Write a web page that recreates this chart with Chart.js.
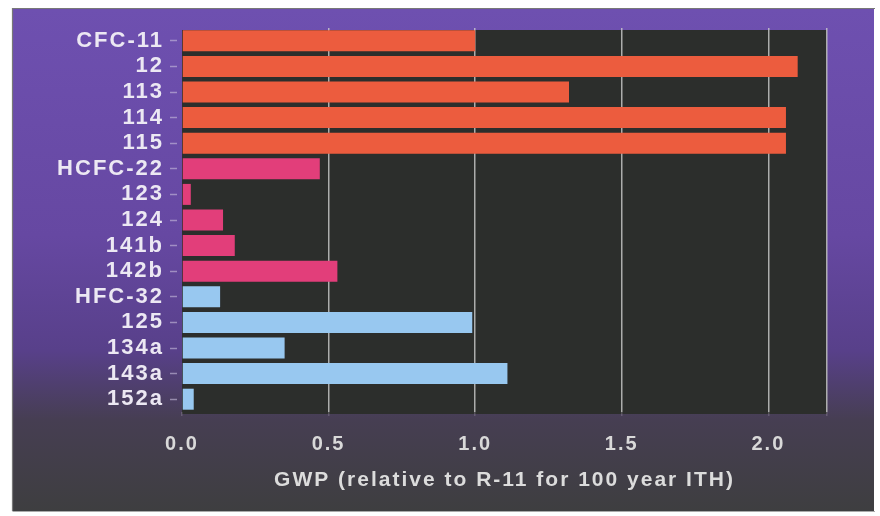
<!DOCTYPE html>
<html>
<head>
<meta charset="utf-8">
<script src="https://cdn.jsdelivr.net/npm/chart.js@4"></script>
<style>
  html, body { margin: 0; padding: 0; background: #ffffff; }
  #wrap { width: 880px; height: 516px; }
</style>
</head>
<body>
<div id="wrap"><canvas id="c" width="880" height="516"></canvas></div>
<script>
// ---- data ----
const categories = ['CFC-11','12','113','114','115','HCFC-22','123','124','141b','142b','HFC-32','125','134a','143a','152a'];
const cfcValues  = [1.00, 2.10, 1.32, 2.06, 2.06];
const hcfcValues = [0.47, 0.03, 0.14, 0.18, 0.53];
const hfcValues  = [0.13, 0.99, 0.35, 1.11, 0.04];
const tickValues = [0.0, 0.5, 1.0, 1.5, 2.0];
const axisMax = 2.2;
const axisTitle = 'GWP (relative to R-11 for 100 year ITH)';

// place each group's values in its own rows
function placed(values, offset) {
  return categories.map((_, i) => (i >= offset && i < offset + values.length) ? values[i - offset] : null);
}

const SPACING = '2px';
const bgPlugin = {
  id: 'bg',
  beforeLayout(chart) { chart.ctx.letterSpacing = SPACING; },
  beforeDraw(chart) {
    const ctx = chart.ctx;
    ctx.save();
    ctx.letterSpacing = '0px';
    ctx.fillStyle = '#ffffff';
    ctx.fillRect(0, 0, chart.width, chart.height);
    const g = ctx.createLinearGradient(0, 9, 0, 511);
    g.addColorStop(0.0, 'rgb(110,80,176)');
    g.addColorStop(0.45, 'rgb(102,72,162)');
    g.addColorStop(0.68, 'rgb(88,64,138)');
    g.addColorStop(0.82, 'rgb(70,62,82)');
    g.addColorStop(1.0, 'rgb(62,62,64)');
    ctx.fillStyle = g;
    ctx.fillRect(13, 9, 861, 502);
    ctx.strokeStyle = 'rgb(120,120,120)';
    ctx.lineWidth = 1.2;
    ctx.beginPath();
    ctx.moveTo(12.5, 511); ctx.lineTo(12.5, 8.5); ctx.lineTo(875, 8.5);
    ctx.stroke();
    ctx.strokeStyle = 'rgb(170,170,170)';
    ctx.beginPath();
    ctx.moveTo(12.5, 511.5); ctx.lineTo(875, 511.5);
    ctx.stroke();
    const a = chart.chartArea;
    ctx.fillStyle = 'rgb(44,46,44)';
    ctx.fillRect(a.left, a.top + 2, a.right - a.left, a.bottom - a.top);
    ctx.restore();
    ctx.letterSpacing = SPACING;
  }
};

new Chart(document.getElementById('c'), {
  type: 'bar',
  data: {
    labels: categories,
    datasets: [
      { label: 'CFC',  data: placed(cfcValues, 0),  backgroundColor: 'rgb(236,92,62)' },
      { label: 'HCFC', data: placed(hcfcValues, 5), backgroundColor: 'rgb(226,62,122)' },
      { label: 'HFC',  data: placed(hfcValues, 10), backgroundColor: 'rgb(152,200,240)' }
    ]
  },
  options: {
    indexAxis: 'y',
    responsive: false,
    animation: false,
    devicePixelRatio: 1,
    grouped: false,
    barPercentage: 0.82,
    categoryPercentage: 1.0,
    layout: { padding: { top: 28, right: 53, bottom: 0, left: 0 } },
    plugins: { legend: { display: false }, tooltip: { enabled: false } },
    scales: {
      x: {
        min: 0,
        max: axisMax,
        afterBuildTicks(scale) {
          scale.ticks = tickValues.concat([axisMax]).map(v => ({ value: v }));
        },
        afterFit(scale) { scale.height = 104; },
        border: { display: false },
        grid: {
          color: (c) => (c.tick && c.tick.value === 0) ? 'rgba(0,0,0,0)' : 'rgba(205,205,205,0.8)',
          lineWidth: 1.5,
          drawTicks: true,
          tickLength: 4,
          tickColor: 'rgba(160,150,170,0.35)'
        },
        ticks: {
          padding: 18,
          color: '#d9d9d9',
          font: { family: 'Liberation Sans', size: 20, weight: 'bold', lineHeight: 1 },
          maxRotation: 0,
          autoSkip: false,
          callback: (v) => tickValues.includes(v) ? v.toFixed(1) : ''
        },
        title: {
          display: true,
          text: axisTitle,
          color: '#dcdcdc',
          font: { family: 'Liberation Sans', size: 21, weight: 'bold', lineHeight: 1 },
          padding: { top: 0, bottom: 25 }
        }
      },
      y: {
        afterFit(scale) { scale.width = 182; },
        border: { display: false },
        grid: {
          offset: false,
          drawOnChartArea: false,
          drawTicks: true,
          tickLength: 12,
          tickBorderDash: [7, 20],
          tickColor: 'rgba(200,190,220,0.6)',
          tickWidth: 1.5
        },
        ticks: {
          padding: 6,
          color: '#ece8f3',
          font: { family: 'Liberation Sans', size: 22, weight: 'bold', lineHeight: 1 },
          autoSkip: false
        }
      }
    }
  },
  plugins: [bgPlugin]
});
</script>
</body>
</html>
